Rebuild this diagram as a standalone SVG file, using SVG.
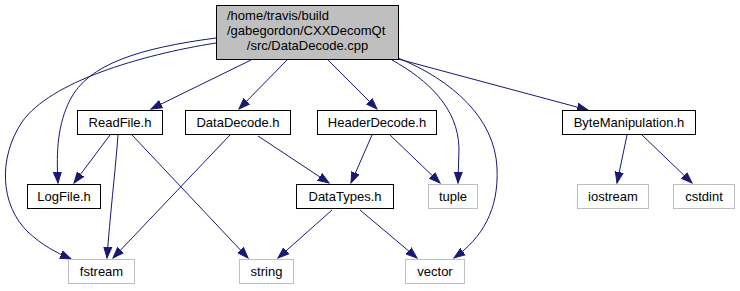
<svg xmlns="http://www.w3.org/2000/svg" width="740" height="291" viewBox="0 0 740 291">
  <style>
    .edge { fill: none; stroke: #191970; stroke-width: 1; marker-end: url(#arrow); }
    .box { fill: #ffffff; stroke: #000000; stroke-width: 1; }
    .ext { fill: #ffffff; stroke: #bfbfbf; stroke-width: 1; }
    .root { fill: #bfbfbf; stroke: #000000; stroke-width: 1; }
    text { font-family: "Liberation Sans", Arial, Helvetica, sans-serif; font-size: 13px; fill: #000000; }
    .c { text-anchor: middle; }
  </style>
  <defs>
    <marker id="arrow" markerUnits="userSpaceOnUse" markerWidth="14" markerHeight="12" viewBox="0 -6 14 12" refX="11" refY="0" orient="auto">
      <path d="M0,-4 L11,0 L0,4 z" fill="#191970" stroke="#191970" stroke-width="1"/>
    </marker>
  </defs>
  <rect width="740" height="291" fill="#ffffff"/>

  <g id="edges">
    <!-- DataDecode.cpp includes -->
    <path class="edge" d="M251,60 L151,109"/>
    <path class="edge" d="M216,38 C140,48 88,64 70,100 C58,124 56,150 58,183"/>
    <path class="edge" d="M216,43 C140,55 50,82 22,122 C-2,158 0,205 28,232 C42,245 55,252 71,259"/>
    <path class="edge" d="M287,60 L239,109"/>
    <path class="edge" d="M328,60 L377,109"/>
    <path class="edge" d="M392,60 C428,80 458,108 459,148 L458,183"/>
    <path class="edge" d="M398,58 C452,80 495,118 497,168 C499,210 482,238 454,258"/>
    <path class="edge" d="M398,59 L588,110"/>
    <!-- ReadFile.h -->
    <path class="edge" d="M110,135 L74,183"/>
    <path class="edge" d="M118,135 C115,175 110,215 107,258"/>
    <path class="edge" d="M132,135 L248,258"/>
    <!-- DataDecode.h -->
    <path class="edge" d="M230,135 L113,258"/>
    <path class="edge" d="M258,136 L329,183"/>
    <!-- HeaderDecode.h -->
    <path class="edge" d="M372,135 L351,183"/>
    <path class="edge" d="M390,135 L440,183"/>
    <!-- DataTypes.h -->
    <path class="edge" d="M332,210 L278,258"/>
    <path class="edge" d="M360,210 L417,258"/>
    <!-- ByteManipulation.h -->
    <path class="edge" d="M627,135 L617,183"/>
    <path class="edge" d="M642,135 L692,183"/>
  </g>

  <g id="node-root">
    <rect class="root" x="216.5" y="5.5" width="182" height="54"/>
    <text x="227" y="20">/home/travis/build</text>
    <text x="227" y="35">/gabegordon/CXXDecomQt</text>
    <text class="c" x="307.5" y="50">/src/DataDecode.cpp</text>
  </g>
  <g id="node-readfile">
    <rect class="box" x="77.5" y="110.5" width="85" height="24"/>
    <text class="c" x="120" y="127">ReadFile.h</text>
  </g>
  <g id="node-datadecode">
    <rect class="box" x="185.5" y="110.5" width="105" height="24"/>
    <text class="c" x="238" y="127">DataDecode.h</text>
  </g>
  <g id="node-headerdecode">
    <rect class="box" x="317.5" y="110.5" width="119" height="24"/>
    <text class="c" x="377" y="127">HeaderDecode.h</text>
  </g>
  <g id="node-bytemanipulation">
    <rect class="box" x="562.5" y="110.5" width="133" height="24"/>
    <text class="c" x="629" y="127">ByteManipulation.h</text>
  </g>
  <g id="node-logfile">
    <rect class="box" x="27.5" y="184.5" width="73" height="24"/>
    <text class="c" x="64" y="201">LogFile.h</text>
  </g>
  <g id="node-datatypes">
    <rect class="box" x="296.5" y="184.5" width="97" height="24"/>
    <text class="c" x="345" y="201">DataTypes.h</text>
  </g>
  <g id="node-tuple">
    <rect class="ext" x="428.5" y="184.5" width="49" height="24"/>
    <text class="c" x="453" y="201">tuple</text>
  </g>
  <g id="node-iostream">
    <rect class="ext" x="577.5" y="184.5" width="71" height="24"/>
    <text class="c" x="613" y="201">iostream</text>
  </g>
  <g id="node-cstdint">
    <rect class="ext" x="673.5" y="184.5" width="61" height="24"/>
    <text class="c" x="704" y="201">cstdint</text>
  </g>
  <g id="node-fstream">
    <rect class="ext" x="68.5" y="259.5" width="66" height="24"/>
    <text class="c" x="101.5" y="276">fstream</text>
  </g>
  <g id="node-string">
    <rect class="ext" x="239.5" y="259.5" width="54" height="24"/>
    <text class="c" x="266.5" y="276">string</text>
  </g>
  <g id="node-vector">
    <rect class="ext" x="405.5" y="259.5" width="59" height="24"/>
    <text class="c" x="435" y="276">vector</text>
  </g>
</svg>
